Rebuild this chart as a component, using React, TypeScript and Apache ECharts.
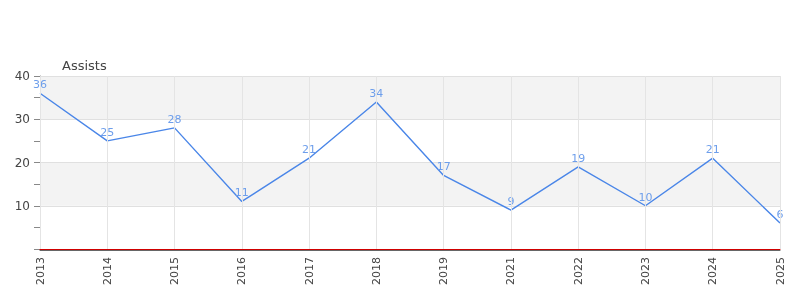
import React, { useEffect, useRef } from "react";
import * as echarts from "echarts";

const years = ["2013", "2014", "2015", "2016", "2017", "2018", "2019", "2021", "2022", "2023", "2024", "2025"];
const assists = [36, 25, 28, 11, 21, 34, 17, 9, 19, 10, 21, 6];
const yTicks = { min: 0, max: 40, interval: 10 };
const seriesName = "Assists";

export default function App() {
  const ref = useRef<HTMLDivElement>(null);
  useEffect(() => {
    if (!ref.current) return;
    const chart = echarts.init(ref.current, null, { renderer: "svg" });
    const font = "DejaVu Sans";
    chart.setOption({
      animation: false,
      textStyle: { fontFamily: font },
      title: {
        text: seriesName,
        left: 57,
        top: 54,
        textStyle: { fontSize: 13, fontWeight: "normal", color: "#444", fontFamily: font },
      },
      grid: { left: 40, right: 20, top: 76, bottom: 51 },
      xAxis: [
        {
          type: "category",
          data: years,
          boundaryGap: false,
          position: "bottom",
          z: 5,
          axisLine: { show: true, lineStyle: { color: "#d00000", width: 1 } },
          axisTick: { show: false },
          axisLabel: { show: false },
          splitLine: { show: true, lineStyle: { color: "#e4e4e4", width: 1 } },
        },
        {
          type: "category",
          data: years,
          boundaryGap: false,
          position: "bottom",
          offset: 1,
          axisLine: { show: true, lineStyle: { color: "#666", width: 1 } },
          axisTick: { show: false },
          axisLabel: { rotate: 90, color: "#444", fontSize: 11, fontFamily: font, margin: 7 },
          splitLine: { show: false },
        },
      ],
      yAxis: {
        type: "value",
        min: yTicks.min,
        max: yTicks.max,
        interval: yTicks.interval,
        axisLine: { show: true, lineStyle: { color: "#888" } },
        axisTick: { show: true, length: 6, lineStyle: { color: "#888" } },
        minorTick: { show: true, splitNumber: 2, length: 6, lineStyle: { color: "#888" } },
        axisLabel: {
          color: "#444",
          fontSize: 12,
          fontFamily: font,
          margin: 10,
          formatter: (v: number) => (v === 0 ? "" : String(v)),
        },
        splitLine: { show: true, lineStyle: { color: "#e0e0e0" } },
        splitArea: { show: true, areaStyle: { color: ["#ffffff", "#f3f3f3"] } },
      },
      series: [
        {
          name: seriesName,
          type: "line",
          xAxisIndex: 0,
          data: assists,
          symbol: "circle",
          symbolSize: 0,
          showSymbol: true,
          lineStyle: { color: "#4a86e8", width: 1.4 },
          itemStyle: { color: "#4a86e8" },
          label: { show: true, position: "top", color: "#6d9eeb", fontSize: 11, fontFamily: font, distance: 3 },
        },
      ],
    });
    return () => chart.dispose();
  }, []);
  return <div ref={ref} style={{ position: "fixed", left: 0, top: 0, width: 800, height: 300 }} />;
}
